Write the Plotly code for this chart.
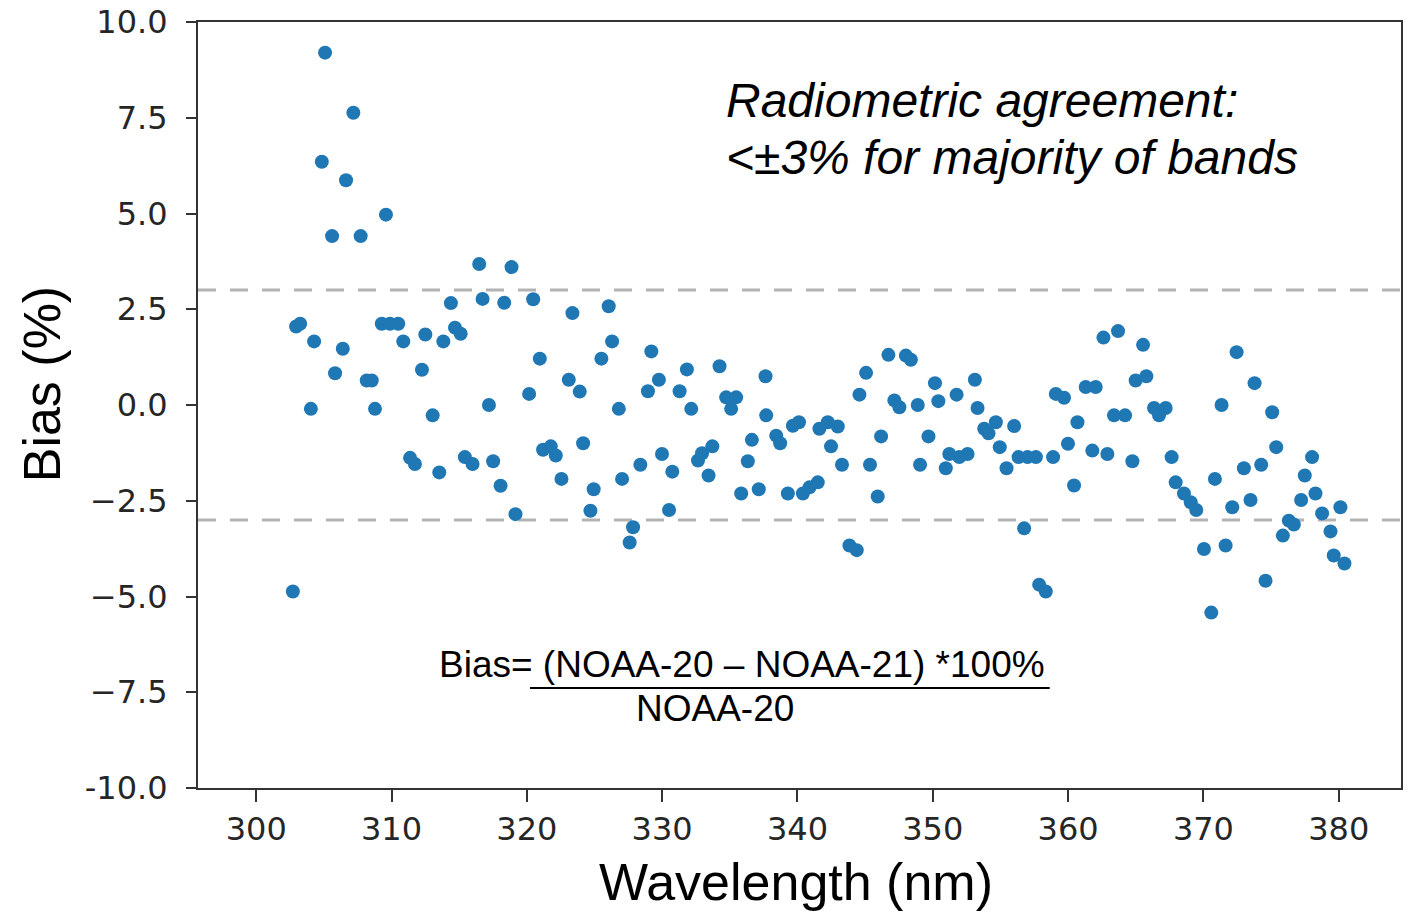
import plotly.graph_objects as go

# Wavelength (nm) and bias (%)
wavelength = [
    302.71, 302.95, 303.25, 304.04, 304.28, 304.85, 305.09, 305.61, 305.83, 306.40,
    306.64, 307.18, 307.72, 308.17, 308.54, 308.78, 309.28, 309.59, 309.89, 310.50,
    310.87, 311.37, 311.73, 312.25, 312.50, 313.04, 313.53, 313.83, 314.39, 314.69,
    315.11, 315.42, 315.99, 316.48, 316.73, 317.20, 317.51, 318.06, 318.33, 318.87,
    319.16, 320.17, 320.47, 320.96, 321.20, 321.77, 322.14, 322.56, 323.10, 323.37,
    323.91, 324.16, 324.70, 324.94, 325.51, 326.05, 326.30, 326.80, 327.04, 327.60,
    327.85, 328.39, 328.95, 329.20, 329.76, 329.99, 330.51, 330.75, 331.29, 331.83,
    332.15, 332.65, 332.95, 333.43, 333.71, 334.24, 334.73, 335.10, 335.47, 335.84,
    336.33, 336.63, 337.14, 337.64, 337.69, 338.43, 338.72, 339.29, 339.66, 340.11,
    340.40, 340.89, 341.50, 341.62, 342.24, 342.48, 342.98, 343.29, 343.84, 344.38,
    344.58, 345.07, 345.36, 345.93, 346.18, 346.72, 347.16, 347.53, 348.01, 348.38,
    348.89, 349.06, 349.68, 350.16, 350.41, 350.96, 351.22, 351.76, 351.96, 352.57,
    353.11, 353.31, 353.80, 354.12, 354.66, 354.95, 355.45, 356.01, 356.34, 356.75,
    357.00, 357.62, 357.86, 358.35, 358.89, 359.09, 359.70, 359.99, 360.44, 360.69,
    361.30, 361.79, 362.04, 362.61, 362.90, 363.39, 363.69, 364.21, 364.75, 364.99,
    365.54, 365.78, 366.35, 366.72, 367.21, 367.65, 367.95, 368.56, 369.06, 369.47,
    370.04, 370.58, 370.85, 371.34, 371.64, 372.13, 372.45, 372.99, 373.48, 373.78,
    374.27, 374.59, 375.08, 375.38, 375.87, 376.31, 376.68, 377.22, 377.49, 378.03,
    378.28, 378.77, 379.39, 379.63, 380.12, 380.42,
]
bias = [
    -4.87, 2.05, 2.12, -0.10, 1.66, 6.35, 9.20, 4.41, 0.83, 1.47,
    5.87, 7.63, 4.41, 0.64, 0.64, -0.10, 2.12, 4.97, 2.12, 2.12,
    1.66, -1.38, -1.54, 0.92, 1.84, -0.27, -1.76, 1.66, 2.66, 2.02,
    1.86, -1.36, -1.54, 3.68, 2.77, 0.00, -1.47, -2.11, 2.67, 3.60,
    -2.85, 0.29, 2.76, 1.21, -1.17, -1.08, -1.32, -1.93, 0.66, 2.40,
    0.35, -1.00, -2.76, -2.20, 1.21, 2.58, 1.66, -0.10, -1.93, -3.59,
    -3.19, -1.56, 0.36, 1.40, 0.66, -1.28, -2.74, -1.74, 0.36, 0.93,
    -0.10, -1.45, -1.26, -1.84, -1.08, 1.01, 0.20, -0.10, 0.20, -2.31,
    -1.47, -0.91, -2.20, 0.75, -0.27, -0.80, -1.00, -2.31, -0.54, -0.45,
    -2.31, -2.15, -2.02, -0.62, -0.45, -1.08, -0.56, -1.56, -3.67, -3.79,
    0.27, 0.84, -1.56, -2.39, -0.82, 1.31, 0.12, -0.06, 1.29, 1.18,
    0.00, -1.56, -0.82, 0.57, 0.10, -1.65, -1.28, 0.27, -1.36, -1.28,
    0.66, -0.08, -0.62, -0.74, -0.45, -1.10, -1.65, -0.55, -1.36, -3.22,
    -1.36, -1.36, -4.69, -4.87, -1.36, 0.29, 0.19, -1.01, -2.10, -0.45,
    0.47, -1.19, 0.47, 1.76, -1.28, -0.27, 1.93, -0.27, -1.47, 0.64,
    1.57, 0.75, -0.08, -0.27, -0.08, -1.36, -2.02, -2.31, -2.54, -2.74,
    -3.76, -5.42, -1.93, 0.00, -3.67, -2.67, 1.38, -1.65, -2.48, 0.57,
    -1.56, -4.59, -0.19, -1.10, -3.41, -3.02, -3.12, -2.48, -1.84, -1.36,
    -2.31, -2.83, -3.30, -3.93, -2.67, -4.14,
]

x_tickvals = [300, 310, 320, 330, 340, 350, 360, 370, 380]
x_ticktext = ["300", "310", "320", "330", "340", "350", "360", "370", "380"]
y_tickvals = [10, 7.5, 5, 2.5, 0, -2.5, -5, -7.5, -10]
y_ticktext = ["10.0", "7.5", "5.0", "2.5", "0.0", "\u22122.5", "\u22125.0", "\u22127.5", "-10.0"]
thresholds = [3, -3]

fig = go.Figure()
fig.add_trace(go.Scatter(
    x=wavelength, y=bias, mode="markers",
    marker=dict(color="#1f77b4", size=14, line=dict(width=0)),
    showlegend=False, hoverinfo="x+y",
))

for t in thresholds:
    fig.add_shape(type="line", xref="x domain", x0=0, x1=1, yref="y", y0=t, y1=t,
                  line=dict(color="#b3b3b3", width=3, dash="18px,14px"), layer="below")

tick_font = dict(family="DejaVu Sans", size=32, color="#262626")
fig.update_xaxes(
    range=[295.7, 384.6], tickvals=x_tickvals, ticktext=x_ticktext,
    showgrid=False, zeroline=False, showline=True, mirror=True, automargin=False,
    linecolor="#333333", linewidth=2, ticks="outside", ticklen=12, tickwidth=2,
    tickcolor="#333333", tickfont=tick_font,
)
fig.update_yaxes(
    range=[-10, 10], tickvals=y_tickvals, ticktext=y_ticktext,
    showgrid=False, zeroline=False, showline=True, mirror=True, automargin=False,
    linecolor="#333333", linewidth=2, ticks="outside", ticklen=10, tickwidth=2,
    tickcolor="#333333", tickfont=tick_font, ticklabelstandoff=12,
)

arial = "Liberation Sans, Arial, sans-serif"
black = "black"
fig.add_annotation(text="Bias (%)", xref="paper", yref="paper", x=-0.1297, y=0.527,
                   xanchor="center", yanchor="middle",
                   textangle=-90, showarrow=False, font=dict(family=arial, size=52, color=black))
fig.add_annotation(text="Wavelength (nm)", xref="paper", yref="paper", x=0.497, y=-0.1227,
                   xanchor="center", yanchor="middle",
                   showarrow=False, font=dict(family=arial, size=52, color=black))
fig.add_annotation(text="<i>Radiometric agreement:</i>",
                   xref="paper", yref="paper", x=0.437, y=0.898, xanchor="left", yanchor="middle",
                   align="left", showarrow=False, font=dict(family=arial, size=48, color=black))
fig.add_annotation(text="<i><\u00b13% for majority of bands</i>",
                   xref="paper", yref="paper", x=0.437, y=0.823, xanchor="left", yanchor="middle",
                   align="left", showarrow=False, font=dict(family=arial, size=48, color=black))
fig.add_annotation(text="Bias= (NOAA-20 \u2013 NOAA-21) *100%", xref="paper", yref="paper",
                   x=0.4518, y=0.1606, xanchor="center", yanchor="middle",
                   showarrow=False, font=dict(family=arial, size=37, color=black))
fig.add_annotation(text="NOAA-20", xref="paper", yref="paper", x=0.4298, y=0.1044,
                   xanchor="center", yanchor="middle",
                   showarrow=False, font=dict(family=arial, size=37, color=black))
fig.add_shape(type="line", xref="paper", yref="paper", x0=0.276, x1=0.708, y0=0.1305, y1=0.1305,
              line=dict(color=black, width=2))

fig.update_layout(
    width=1410, height=923,
    margin=dict(l=198, r=9, t=22, b=135, autoexpand=False),
    plot_bgcolor="white", paper_bgcolor="white",
)
fig.write_html("out.html")
